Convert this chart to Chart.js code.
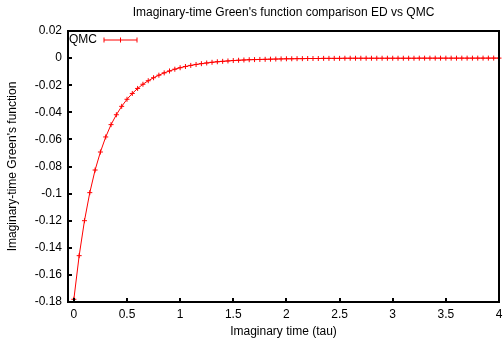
<!DOCTYPE html>
<html>
<head>
<meta charset="utf-8">
<script src="https://cdn.jsdelivr.net/npm/chart.js@4.4.1/dist/chart.umd.min.js"></script>
<style>
  html, body { margin: 0; padding: 0; background: #fff; }
  #wrap { width: 504px; height: 338px; }
</style>
</head>
<body>
<div id="wrap"><canvas id="greenChart" width="504" height="338"></canvas></div>
<script>
// imaginary time grid (tau)
const taus = [
    0.00, 0.05, 0.10, 0.15, 0.20, 0.25, 0.30, 0.35, 0.40, 0.45,
    0.50, 0.55, 0.60, 0.65, 0.70, 0.75, 0.80, 0.85, 0.90, 0.95,
    1.00, 1.05, 1.10, 1.15, 1.20, 1.25, 1.30, 1.35, 1.40, 1.45,
    1.50, 1.55, 1.60, 1.65, 1.70, 1.75, 1.80, 1.85, 1.90, 1.95,
    2.00, 2.05, 2.10, 2.15, 2.20, 2.25, 2.30, 2.35, 2.40, 2.45,
    2.50, 2.55, 2.60, 2.65, 2.70, 2.75, 2.80, 2.85, 2.90, 2.95,
    3.00, 3.05, 3.10, 3.15, 3.20, 3.25, 3.30, 3.35, 3.40, 3.45,
    3.50, 3.55, 3.60, 3.65, 3.70, 3.75, 3.80, 3.85, 3.90, 3.95,
    4.00
];

// QMC values of G(tau)
const qmcValues = [
    -0.1780, -0.1458, -0.1200, -0.0993, -0.0826, -0.0693, -0.0582, -0.0491, -0.0418, -0.0356,
    -0.0304, -0.0261, -0.0224, -0.0193, -0.0167, -0.0145, -0.0126, -0.0109, -0.0095, -0.0082,
    -0.0071, -0.0062, -0.0054, -0.0047, -0.0041, -0.0036, -0.0031, -0.0027, -0.0024, -0.0021,
    -0.0018, -0.0016, -0.0014, -0.0012, -0.0011, -0.0010, -0.0009, -0.0008, -0.0007, -0.0006,
    -0.0005, -0.0005, -0.0004, -0.0004, -0.0003, -0.0003, -0.0003, -0.0002, -0.0002, -0.0002,
    -0.0002, -0.0001, -0.0001, -0.0001, -0.0001, -0.0001, -0.0001, -0.0001, -0.0001, -0.0001,
    -0.0001, -0.0001, -0.0001, -0.0001, -0.0001, -0.00005, -0.00005, -0.00005, -0.00005, -0.00005,
    -0.00005, -0.00005, -0.00005, -0.00003, -0.00003, -0.00003, -0.00002, -0.00002, -0.00001, 0.0000,
    0.0000
];

const xTicks = [0, 0.5, 1, 1.5, 2, 2.5, 3, 3.5, 4];
const yTicks = [-0.18, -0.16, -0.14, -0.12, -0.1, -0.08, -0.06, -0.04, -0.02, 0, 0.02];

const FONT = 'Liberation Sans, Arial, sans-serif';
const RED = '#ff0000';

// gnuplot-like frame, inward ticks and key
const framePlugin = {
    id: 'frame',
    afterDatasetsDraw(chart) {
        const { ctx, chartArea: a, scales } = chart;
        ctx.save();
        ctx.strokeStyle = '#000';
        ctx.lineWidth = 2;
        ctx.strokeRect(a.left, a.top, a.right - a.left, a.bottom - a.top);

        ctx.beginPath();
        xTicks.forEach(v => {
            const px = Math.round(scales.x.getPixelForValue(v));
            ctx.moveTo(px, a.bottom);
            ctx.lineTo(px, a.bottom - 4);
        });
        yTicks.forEach(v => {
            const py = Math.round(scales.y.getPixelForValue(v));
            ctx.moveTo(a.left, py);
            ctx.lineTo(a.left + 4, py);
        });
        ctx.stroke();

        // key
        const ky = a.top + 9;
        ctx.fillStyle = '#000';
        ctx.font = '12px ' + FONT;
        ctx.textBaseline = 'middle';
        ctx.textAlign = 'left';
        ctx.fillText('QMC', a.left + 1, ky);
        ctx.strokeStyle = RED;
        ctx.lineWidth = 1;
        ctx.beginPath();
        ctx.moveTo(a.left + 36, ky);
        ctx.lineTo(a.left + 69, ky);
        [36, 52.5, 69].forEach(dx => {
            ctx.moveTo(a.left + dx, ky - 2.5);
            ctx.lineTo(a.left + dx, ky + 2.5);
        });
        ctx.stroke();
        ctx.restore();
    }
};

const ctx = document.getElementById('greenChart').getContext('2d');
new Chart(ctx, {
    type: 'line',
    data: {
        datasets: [{
            label: 'QMC',
            data: taus.map((t, i) => ({ x: t, y: qmcValues[i] })),
            borderColor: RED,
            backgroundColor: RED,
            borderWidth: 1,
            pointStyle: 'cross',
            pointRadius: 2.5,
            pointBorderWidth: 1,
            pointBorderColor: RED,
            tension: 0,
            fill: false,
            clip: false
        }]
    },
    options: {
        responsive: false,
        animation: false,
        layout: { padding: { left: 0, right: 4, top: 0, bottom: 0 } },
        plugins: {
            legend: { display: false },
            tooltip: { enabled: false },
            title: {
                display: true,
                fullSize: false,
                text: "Imaginary-time Green's function comparison ED vs QMC",
                color: '#000',
                font: { family: FONT, size: 12, weight: 'normal', lineHeight: 1.2 },
                padding: { top: 5.5, bottom: 11.1 }
            }
        },
        scales: {
            x: {
                type: 'linear',
                min: -0.055,
                max: 4,
                afterBuildTicks: (scale) => { scale.ticks = xTicks.map(v => ({ value: v })); },
                afterFit: (scale) => {
                    scale.height = 36;
                    scale.paddingLeft = 0;
                    scale.paddingRight = 0;
                },
                grid: { display: false, drawTicks: false },
                border: { display: false },
                ticks: {
                    color: '#000',
                    padding: 5.8,
                    maxRotation: 0,
                    font: { family: FONT, size: 12 },
                    callback: (v) => String(v)
                },
                title: {
                    display: true,
                    text: 'Imaginary time (tau)',
                    color: '#000',
                    font: { family: FONT, size: 12, lineHeight: 1.05 },
                    padding: { top: 0, bottom: 0 }
                }
            },
            y: {
                type: 'linear',
                min: -0.18,
                max: 0.02,
                afterBuildTicks: (scale) => { scale.ticks = yTicks.map(v => ({ value: v })); },
                afterFit: (scale) => {
                    scale.width = 68;
                    scale.paddingTop = 0;
                    scale.paddingBottom = 0;
                },
                grid: { display: false, drawTicks: false },
                border: { display: false },
                ticks: {
                    color: '#000',
                    padding: 6,
                    font: { family: FONT, size: 12 },
                    callback: (v) => String(Number(v.toFixed(2)))
                },
                title: {
                    display: true,
                    text: "Imaginary-time Green's function",
                    color: '#000',
                    font: { family: FONT, size: 12, lineHeight: 1.2 },
                    padding: { top: 5, bottom: 0 }
                }
            }
        }
    },
    plugins: [framePlugin]
});
</script>
</body>
</html>
